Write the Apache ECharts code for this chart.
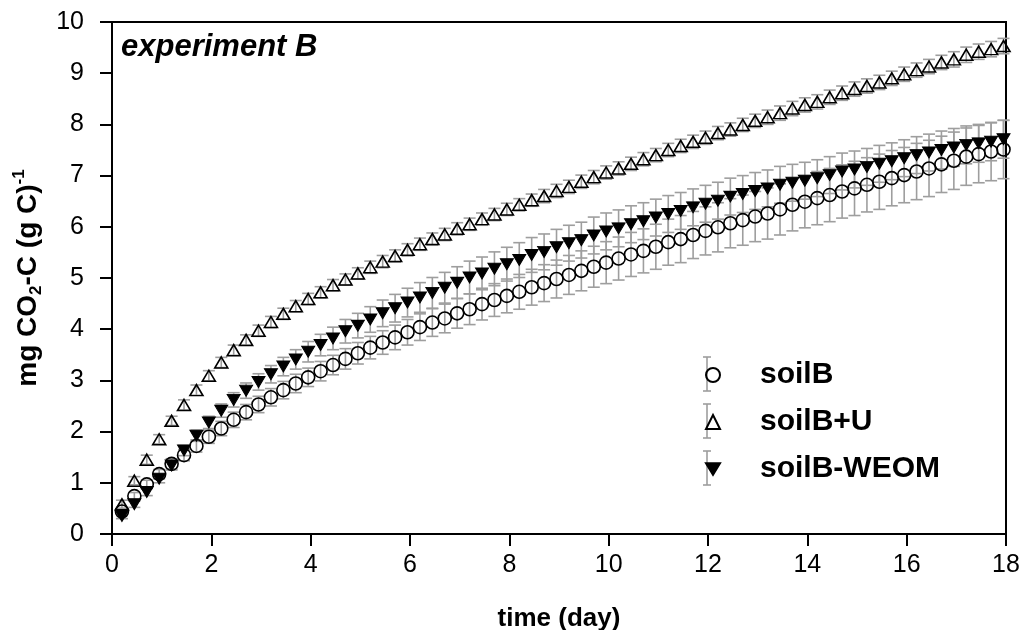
<!DOCTYPE html>
<html>
<head>
<meta charset="utf-8">
<title>experiment B</title>
<script src="https://cdn.jsdelivr.net/npm/echarts@6/dist/echarts.min.js"></script>
<style>
  html, body { margin: 0; padding: 0; background: #fff; }
  #chart { width: 1021px; height: 630px; }
</style>
</head>
<body>
<div id="chart"></div>
<script>
// Sampling times (day)
const times = [
  0.2, 0.45, 0.7, 0.95, 1.2, 1.45, 1.7, 1.95, 2.2, 2.45, 2.7, 2.95,
  3.2, 3.45, 3.7, 3.95, 4.2, 4.45, 4.7, 4.95, 5.2, 5.45, 5.7, 5.95,
  6.2, 6.45, 6.7, 6.95, 7.2, 7.45, 7.7, 7.95, 8.2, 8.45, 8.7, 8.95,
  9.2, 9.45, 9.7, 9.95, 10.2, 10.45, 10.7, 10.95, 11.2, 11.45, 11.7, 11.95,
  12.2, 12.45, 12.7, 12.95, 13.2, 13.45, 13.7, 13.95, 14.2, 14.45, 14.7, 14.95,
  15.2, 15.45, 15.7, 15.95, 16.2, 16.45, 16.7, 16.95, 17.2, 17.45, 17.7, 17.95
];

// Cumulative CO2-C, mg (g C)^-1
const soilB = [
  0.44, 0.74, 0.97, 1.17, 1.37, 1.54, 1.72, 1.90, 2.06, 2.23, 2.38, 2.53,
  2.67, 2.81, 2.94, 3.06, 3.18, 3.30, 3.42, 3.53, 3.64, 3.74, 3.84, 3.94,
  4.04, 4.13, 4.21, 4.31, 4.39, 4.49, 4.57, 4.65, 4.73, 4.82, 4.90, 4.98,
  5.06, 5.14, 5.22, 5.30, 5.38, 5.46, 5.53, 5.61, 5.70, 5.76, 5.84, 5.92,
  5.99, 6.07, 6.13, 6.20, 6.26, 6.34, 6.43, 6.49, 6.56, 6.62, 6.69, 6.75,
  6.82, 6.88, 6.95, 7.01, 7.08, 7.14, 7.22, 7.29, 7.37, 7.42, 7.47, 7.51
];
const soilBU = [
  0.58, 1.04, 1.45, 1.85, 2.21, 2.52, 2.81, 3.09, 3.35, 3.59, 3.79, 3.97,
  4.14, 4.30, 4.45, 4.59, 4.72, 4.86, 4.97, 5.09, 5.21, 5.32, 5.43, 5.55,
  5.66, 5.76, 5.85, 5.96, 6.05, 6.15, 6.24, 6.34, 6.43, 6.52, 6.60, 6.70,
  6.78, 6.88, 6.97, 7.06, 7.14, 7.23, 7.32, 7.40, 7.50, 7.58, 7.66, 7.74,
  7.83, 7.90, 7.99, 8.07, 8.14, 8.22, 8.31, 8.38, 8.44, 8.53, 8.61, 8.69,
  8.75, 8.82, 8.90, 8.98, 9.06, 9.13, 9.21, 9.27, 9.36, 9.42, 9.47, 9.53
];
const soilBWEOM = [
  0.35, 0.58, 0.82, 1.08, 1.34, 1.63, 1.92, 2.18, 2.41, 2.62, 2.80, 2.97,
  3.12, 3.27, 3.41, 3.56, 3.69, 3.82, 3.96, 4.07, 4.19, 4.31, 4.41, 4.52,
  4.62, 4.71, 4.81, 4.91, 5.01, 5.09, 5.18, 5.27, 5.35, 5.45, 5.51, 5.60,
  5.68, 5.74, 5.83, 5.91, 5.97, 6.05, 6.11, 6.18, 6.25, 6.31, 6.38, 6.45,
  6.51, 6.59, 6.64, 6.70, 6.75, 6.82, 6.86, 6.90, 6.95, 7.01, 7.08, 7.12,
  7.17, 7.23, 7.28, 7.34, 7.40, 7.45, 7.50, 7.55, 7.60, 7.63, 7.66, 7.71
];

// Standard deviations for the error bars
const soilBErr = [
  0.06, 0.07, 0.08, 0.09, 0.10, 0.11, 0.12, 0.13, 0.14, 0.15, 0.15, 0.16,
  0.17, 0.17, 0.18, 0.18, 0.19, 0.19, 0.20, 0.21, 0.22, 0.23, 0.24, 0.25,
  0.26, 0.27, 0.28, 0.29, 0.30, 0.31, 0.32, 0.33, 0.34, 0.35, 0.36, 0.37,
  0.38, 0.39, 0.40, 0.41, 0.42, 0.43, 0.43, 0.44, 0.45, 0.46, 0.46, 0.47,
  0.48, 0.48, 0.49, 0.49, 0.50, 0.50, 0.51, 0.51, 0.52, 0.52, 0.52, 0.53,
  0.53, 0.54, 0.54, 0.54, 0.55, 0.55, 0.55, 0.56, 0.56, 0.56, 0.57, 0.57
];
const soilBUErr = [
  0.08, 0.08, 0.09, 0.09, 0.09, 0.10, 0.10, 0.10, 0.10, 0.10, 0.10, 0.11,
  0.11, 0.11, 0.11, 0.11, 0.11, 0.11, 0.11, 0.11, 0.12, 0.12, 0.12, 0.12,
  0.12, 0.12, 0.12, 0.12, 0.12, 0.12, 0.12, 0.12, 0.12, 0.12, 0.13, 0.13,
  0.13, 0.13, 0.13, 0.13, 0.13, 0.13, 0.13, 0.13, 0.13, 0.13, 0.13, 0.13,
  0.13, 0.13, 0.13, 0.13, 0.14, 0.14, 0.14, 0.14, 0.14, 0.14, 0.14, 0.14,
  0.14, 0.14, 0.14, 0.14, 0.14, 0.14, 0.14, 0.15, 0.15, 0.15, 0.15, 0.15
];
const soilBWEOMErr = [
  0.05, 0.06, 0.07, 0.08, 0.09, 0.10, 0.11, 0.12, 0.13, 0.14, 0.15, 0.16,
  0.17, 0.18, 0.19, 0.20, 0.21, 0.22, 0.23, 0.24, 0.25, 0.26, 0.27, 0.28,
  0.29, 0.30, 0.30, 0.31, 0.32, 0.32, 0.33, 0.33, 0.34, 0.34, 0.35, 0.35,
  0.35, 0.35, 0.36, 0.36, 0.36, 0.36, 0.36, 0.36, 0.36, 0.36, 0.36, 0.36,
  0.36, 0.36, 0.36, 0.36, 0.36, 0.36, 0.36, 0.36, 0.36, 0.36, 0.36, 0.36,
  0.36, 0.36, 0.36, 0.36, 0.36, 0.36, 0.37, 0.37, 0.37, 0.37, 0.37, 0.37
];

const seriesNames = ['soilB', 'soilB+U', 'soilB-WEOM'];
const FONT = '"Liberation Sans", Arial, Helvetica, sans-serif';
const BAR_GREY = '#9e9e9e';
const DOWN_TRIANGLE = 'path://M0,0 L12,0 L6,10 Z';

function points(ys) {
  return times.map((t, i) => [t, ys[i]]);
}
function errorRows(ys, errs) {
  return times.map((t, i) => [t, ys[i] - errs[i], ys[i] + errs[i]]);
}

// Vertical error bar with caps, positioned through the axis scales
function renderErrorBar(params, api) {
  const x = api.value(0);
  const lo = api.coord([x, api.value(1)]);
  const hi = api.coord([x, api.value(2)]);
  const half = 6;
  const style = { stroke: BAR_GREY, lineWidth: 1.6, fill: null };
  return {
    type: 'group',
    children: [
      { type: 'line', shape: { x1: lo[0], y1: lo[1], x2: hi[0], y2: hi[1] }, style },
      { type: 'line', shape: { x1: lo[0] - half, y1: lo[1], x2: lo[0] + half, y2: lo[1] }, style },
      { type: 'line', shape: { x1: hi[0] - half, y1: hi[1], x2: hi[0] + half, y2: hi[1] }, style }
    ]
  };
}

function errorSeries(ys, errs) {
  return {
    type: 'custom',
    renderItem: renderErrorBar,
    data: errorRows(ys, errs),
    encode: { x: 0, y: [1, 2] },
    z: 1,
    silent: true
  };
}

const hollow = { color: 'rgba(0,0,0,0)', borderColor: '#000', borderWidth: 1.6, opacity: 1 };

const chart = echarts.init(document.getElementById('chart'), null, { renderer: 'canvas' });

// Grey bars behind the legend symbols
const legendBarX = 707;
const legendRows = [374, 421, 468];
const legendBars = [];
legendRows.forEach(cy => {
  const top = cy - 17, bottom = cy + 17;
  const st = { stroke: BAR_GREY, lineWidth: 1.6 };
  legendBars.push({ type: 'line', z: 0, shape: { x1: legendBarX, y1: top, x2: legendBarX, y2: bottom }, style: st });
  legendBars.push({ type: 'line', z: 0, shape: { x1: legendBarX - 4, y1: top, x2: legendBarX + 4, y2: top }, style: st });
  legendBars.push({ type: 'line', z: 0, shape: { x1: legendBarX - 4, y1: bottom, x2: legendBarX + 4, y2: bottom }, style: st });
});

chart.setOption({
  animation: false,
  backgroundColor: '#fff',
  grid: {
    left: 112, right: 15, top: 22, bottom: 96,
    outerBoundsMode: 'none',
    containLabel: false,
    show: true, borderColor: '#000', borderWidth: 2, backgroundColor: 'transparent'
  },
  xAxis: {
    type: 'value',
    min: 0, max: 18, interval: 2,
    name: 'time (day)',
    nameLocation: 'middle',
    nameGap: 72,
    nameTextStyle: { fontFamily: FONT, fontWeight: 'bold', fontSize: 26, color: '#000' },
    axisLine: { show: true, onZero: false, lineStyle: { color: '#000', width: 2 } },
    axisTick: { show: true, inside: false, length: 12, lineStyle: { color: '#000', width: 2 } },
    axisLabel: { fontFamily: FONT, fontSize: 25, color: '#000', margin: 19 },
    splitLine: { show: false }
  },
  yAxis: {
    type: 'value',
    min: 0, max: 10, interval: 1,
    name: '{b|mg CO}{sub|2}{b|-C (g C)}{sup|-1}',
    nameLocation: 'middle',
    nameGap: 65,
    nameRotate: 90,
    nameTextStyle: {
      fontFamily: FONT, fontWeight: 'bold', fontSize: 28, color: '#000',
      rich: {
        b: { fontFamily: FONT, fontWeight: 'bold', fontSize: 28, color: '#000', lineHeight: 34 },
        sub: { fontFamily: FONT, fontWeight: 'bold', fontSize: 17, color: '#000', lineHeight: 18, verticalAlign: 'bottom' },
        sup: { fontFamily: FONT, fontWeight: 'bold', fontSize: 17, color: '#000', lineHeight: 18, verticalAlign: 'top' }
      }
    },
    axisLine: { show: true, onZero: false, lineStyle: { color: '#000', width: 2 } },
    axisTick: { show: true, inside: false, length: 12, lineStyle: { color: '#000', width: 2 } },
    axisLabel: { fontFamily: FONT, fontSize: 25, color: '#000', margin: 28 },
    splitLine: { show: false }
  },
  legend: {
    data: seriesNames,
    orient: 'vertical',
    left: 700,
    top: 355,
    itemWidth: 14,
    itemHeight: 14,
    itemGap: 17,
    selectedMode: false,
    textStyle: { fontFamily: FONT, fontWeight: 'bold', fontSize: 30, color: '#000', padding: [0, 0, 0, 35] }
  },
  graphic: [
    {
      type: 'text',
      left: 121,
      top: 32,
      z: 10,
      style: {
        text: 'experiment B',
        font: 'italic bold 31px "Liberation Sans", Arial, sans-serif',
        fill: '#000'
      }
    },
    ...legendBars
  ],
  series: [
    errorSeries(soilB, soilBErr),
    errorSeries(soilBU, soilBUErr),
    errorSeries(soilBWEOM, soilBWEOMErr),
    {
      name: 'soilB', type: 'scatter', z: 3,
      data: points(soilB),
      symbol: 'circle', symbolSize: 13,
      itemStyle: hollow
    },
    {
      name: 'soilB+U', type: 'scatter', z: 3,
      data: points(soilBU),
      symbol: 'triangle', symbolSize: [13, 11],
      itemStyle: hollow
    },
    {
      name: 'soilB-WEOM', type: 'scatter', z: 3,
      data: points(soilBWEOM),
      symbol: DOWN_TRIANGLE, symbolSize: [13, 11],
      itemStyle: { color: '#000', borderColor: '#000', borderWidth: 1, opacity: 1 }
    }
  ]
});
</script>
</body>
</html>
